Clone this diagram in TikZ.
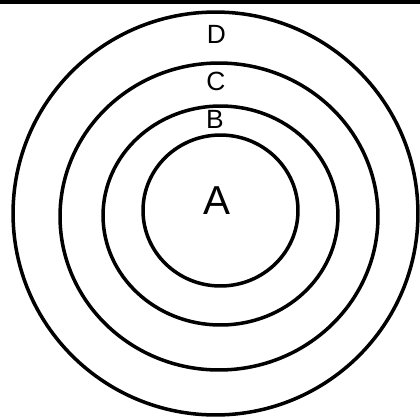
\documentclass[tikz,border=0pt]{standalone}
\usepackage{fontspec}
\setmainfont{Liberation Sans}

\begin{document}
\begin{tikzpicture}[x=0.02cm, y=-0.02cm,
    ring/.style={line width=2pt, black},
    ringlabel/.style={inner sep=0pt, font=\fontsize{15}{17}\selectfont}]
    \useasboundingbox (0,0) rectangle (420,417);
    \draw[line width=1.8pt] (0,2) -- (420,2);
    \draw[ring] (215.5,213.5) ellipse [x radius=4.05cm, y radius=4.03cm];
    \draw[ring] (219,216.5) ellipse [x radius=3.18cm, y radius=3.07cm];
    \draw[ring] (220.5,215.5) ellipse [x radius=2.35cm, y radius=2.19cm];
    \draw[ring] (220.5,210.5) ellipse [x radius=1.55cm, y radius=1.51cm];
    \node[ringlabel] (labD) at (216.5,34) {D};
    \node[ringlabel] (labC) at (216,81) {C};
    \node[ringlabel] (labB) at (215,119) {B};
    \node[ringlabel, font=\fontsize{23}{26}\selectfont] (labA) at (216.5,200.5) {A};
\end{tikzpicture}
\end{document}
